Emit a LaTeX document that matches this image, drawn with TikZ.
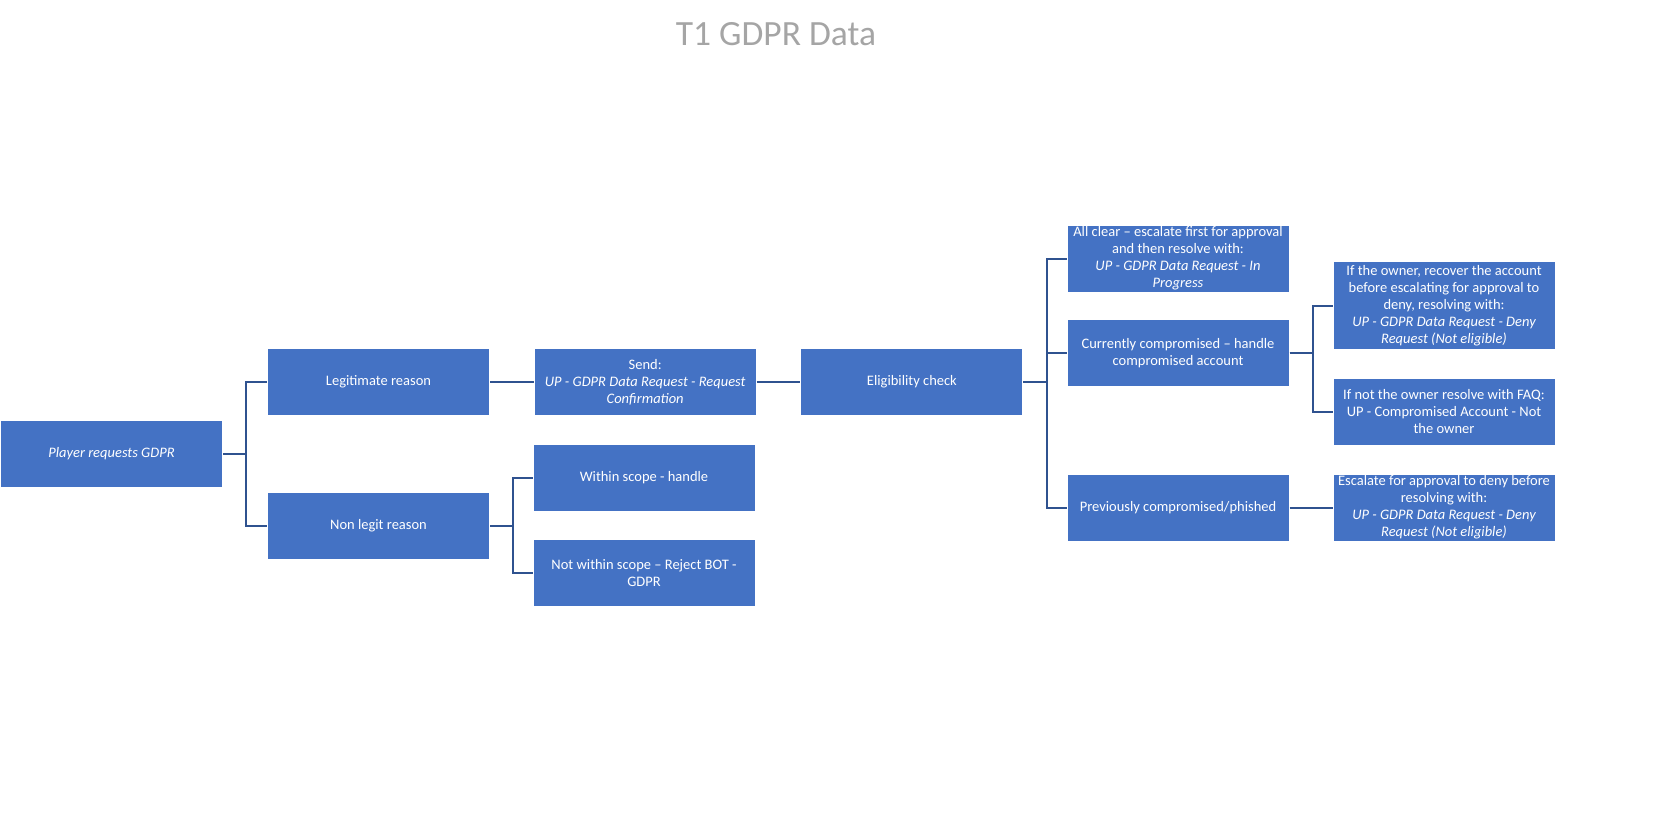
\documentclass[tikz,border=0pt]{standalone}
\usepackage{fontspec}
\setmainfont{Carlito}
\usepackage{tikz}
\usetikzlibrary{arrows}
\definecolor{boxblue}{HTML}{4472C4}
\definecolor{linkblue}{HTML}{2F528F}
\definecolor{titlegray}{HTML}{A5A5A5}

\begin{document}
\begin{tikzpicture}[-,x=1pt,y=-1pt,node distance=266.7pt,
                    line width=2pt]
  \tikzstyle{every box}=[fill=boxblue,draw=none,text=white,
       minimum width=221pt,minimum height=66pt,inner sep=0pt,align=center,
       font=\fontsize{14.5pt}{17pt}\selectfont]
  \tikzstyle{box}=[every box]
  \tikzstyle{link}=[draw=linkblue,line width=2pt]

  \useasboundingbox (0,0) rectangle (1680,830);

  \node[text=titlegray,font=\fontsize{35.5pt}{40pt}\selectfont] (title) at (776,34) {T1 GDPR Data};

  \node[box] (player) at (111.5,454)  {\itshape Player requests GDPR};
  \node[box] (legit)  at (378.5,382)  {Legitimate reason};
  \node[box] (send)   [right of=legit] {Send:\\ \itshape UP - GDPR Data Request - Request\\ \itshape Confirmation};
  \node[box] (elig)   [right of=send] {Eligibility check};
  \node[box] (nonlegit) at (378.5,525.5) {Non legit reason};
  \node[box] (within)  at (644,478)   {Within scope - handle};
  \node[box] (notwithin) at (644,573) {Not within scope -- Reject BOT -\\ GDPR};

  \node[box] (allclear) at (1178,258.5) {All clear -- escalate first for approval\\ and then resolve with:\\ \itshape UP - GDPR Data Request - In\\ \itshape Progress};
  \node[box] (current)  at (1178,353)  {Currently compromised -- handle\\ compromised account};
  \node[box] (previous) at (1178,507.5) {Previously compromised/phished};

  \node[box,minimum height=87pt] (owner) at (1444,305.5) {If the owner, recover the account\\ before escalating for approval to\\ deny, resolving with:\\ \itshape UP - GDPR Data Request - Deny\\ \itshape Request (Not eligible)};
  \node[box] (notowner) at (1444,412) {If not the owner resolve with FAQ:\\ UP - Compromised Account - Not\\ the owner};
  \node[box] (escalate) at (1444,507.5) {Escalate for approval to deny before\\ resolving with:\\ \itshape UP - GDPR Data Request - Deny\\ \itshape Request (Not eligible)};

  \draw[link] (player.east) -- ++(23,0) |- (legit.west);
  \draw[link] (player.east) -- ++(23,0) |- (nonlegit.west);
  \draw[link] (legit) -- (send);
  \draw[link] (send) -- (elig);
  \draw[link] (nonlegit.east) -- ++(23,0) |- (within.west);
  \draw[link] (nonlegit.east) -- ++(23,0) |- (notwithin.west);
  \draw[link] (elig.east) -- ++(24,0) |- (allclear.west);
  \draw[link] (elig.east) -- ++(24,0) |- (current.west);
  \draw[link] (elig.east) -- ++(24,0) |- (previous.west);
  \draw[link] (current.east) -- ++(23,0) |- (owner.west);
  \draw[link] (current.east) -- ++(23,0) |- (notowner.west);
  \draw[link] (previous) -- (escalate);
\end{tikzpicture}
\end{document}
